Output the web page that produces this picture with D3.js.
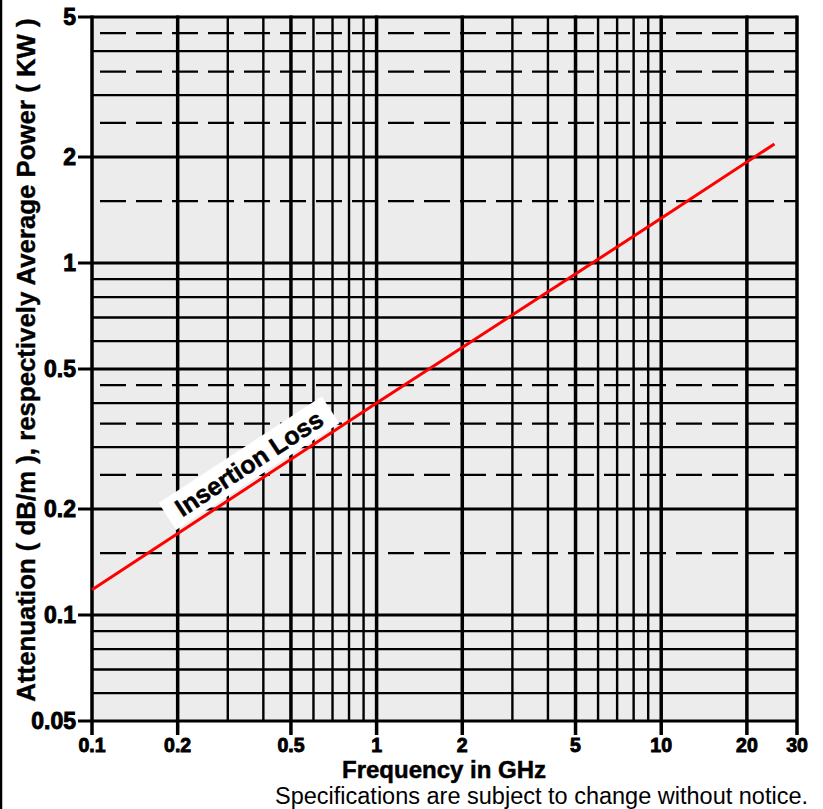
<!DOCTYPE html>
<html>
<head>
<meta charset="utf-8">
<script src="https://cdn.jsdelivr.net/npm/d3@7"></script>
<style>
  body { margin: 0; background: #fff; }
  svg { display: block; }
  text { font-family: 'Liberation Sans', Arial, sans-serif; }
</style>
</head>
<body>
<div id="chart"></div>
<script>
// grid values
var xMajor = [0.1, 0.2, 0.5, 1, 2, 5, 10, 20, 30];
var xMinor = [0.3, 0.4, 0.6, 0.7, 0.8, 0.9, 3, 4, 6, 7, 8, 9];
var yMajor = [0.05, 0.1, 0.2, 0.5, 1, 2, 5];
var yMinor = [0.06, 0.07, 0.08, 0.09, 0.3, 0.4, 0.6, 0.7, 0.8, 0.9, 3, 4];
var yDashed = [0.15, 0.25, 0.35, 0.45, 1.5, 2.5, 3.5, 4.5];

var xTickLabels = ["0.1", "0.2", "0.5", "1", "2", "5", "10", "20", "30"];
var yTickLabels = ["0.05", "0.1", "0.2", "0.5", "1", "2", "5"];

// insertion loss curve
var freq = [0.1, 1, 10, 25];
var loss = [0.118, 0.40, 1.34, 2.18];

var labelFreq = 0.356,
    labelValue = 0.27;

var width = 823,
    height = 809

var margin = { left: 92, right: 26, top: 17, bottom: 88 }

var svg = d3.select("#chart").append("svg")
    .attr("width", width)
    .attr("height", height)

var x = d3.scaleLog().domain([0.1, 30]).range([margin.left, width - margin.right])
var y = d3.scaleLog().domain([0.05, 5]).range([height - margin.bottom, margin.top])

// cropped edge of neighbouring chart
svg.append("line")
    .attr("x1", 1).attr("x2", 1)
    .attr("y1", 0).attr("y2", height)
    .attr("stroke", "#000")
    .attr("stroke-width", 2.5)

svg.append("rect")
    .attr("x", x(0.1))
    .attr("y", y(5))
    .attr("width", x(30) - x(0.1))
    .attr("height", y(0.05) - y(5))
    .attr("fill", "#ebeceb")

var grid = svg.append("g")

grid.selectAll(".ydash").data(yDashed).enter().append("line")
    .attr("x1", x(0.1)).attr("x2", x(30))
    .attr("y1", d => y(d)).attr("y2", d => y(d))
    .attr("stroke", "#000")
    .attr("stroke-width", 2.2)
    .attr("stroke-dasharray", "26,10")
    .attr("stroke-dashoffset", 28)

grid.selectAll(".yminor").data(yMinor).enter().append("line")
    .attr("x1", x(0.1)).attr("x2", x(30))
    .attr("y1", d => y(d)).attr("y2", d => y(d))
    .attr("stroke", "#000")
    .attr("stroke-width", 2.4)

grid.selectAll(".ymajor").data(yMajor).enter().append("line")
    .attr("x1", x(0.1) - 14).attr("x2", x(30))
    .attr("y1", d => y(d)).attr("y2", d => y(d))
    .attr("stroke", "#000")
    .attr("stroke-width", 3)

grid.selectAll(".xminor").data(xMinor).enter().append("line")
    .attr("x1", d => x(d)).attr("x2", d => x(d))
    .attr("y1", y(5)).attr("y2", y(0.05))
    .attr("stroke", "#000")
    .attr("stroke-width", 2.4)

grid.selectAll(".xmajor").data(xMajor).enter().append("line")
    .attr("x1", d => x(d)).attr("x2", d => x(d))
    .attr("y1", y(5) - 1.5).attr("y2", y(0.05) + 14)
    .attr("stroke", "#000")
    .attr("stroke-width", 3.5)

// tick labels
svg.append("g").selectAll("text").data(xMajor).enter().append("text")
    .attr("x", d => x(d))
    .attr("y", 751.5)
    .attr("text-anchor", "middle")
    .attr("stroke", "#000").attr("stroke-width", 0.9)
    .style("font-weight", "bold").style("font-size", "19.5px")
    .text((d, i) => xTickLabels[i])

svg.append("g").selectAll("text").data(yMajor).enter().append("text")
    .attr("x", x(0.1) - 16)
    .attr("y", d => y(d))
    .attr("dy", "0.36em")
    .attr("text-anchor", "end")
    .attr("stroke", "#000").attr("stroke-width", 0.9)
    .style("font-weight", "bold").style("font-size", "23px")
    .text((d, i) => yTickLabels[i])

// insertion loss line
var pts = freq.map((f, i) => [f, loss[i]])

svg.append("path")
    .datum(pts)
    .attr("fill", "none")
    .attr("stroke", "#ff0000")
    .attr("stroke-width", 3)
    .attr("d", d3.line().x(d => x(d[0])).y(d => y(d[1])))

// rotated label on the curve
var a = pts[0], b = pts[pts.length - 1]
var angle = Math.atan2(y(b[1]) - y(a[1]), x(b[0]) - x(a[0])) * 180 / Math.PI

var lab = svg.append("g")
    .attr("transform", "translate(" + x(labelFreq) + "," + y(labelValue) + ") rotate(" + angle + ")")

var box = lab.append("rect").attr("fill", "#fff")
var txt = lab.append("text")
    .attr("text-anchor", "middle")
    .attr("dy", "0.36em")
    .attr("stroke", "#000").attr("stroke-width", 0.5)
    .style("font-weight", "bold").style("font-size", "25px")
    .text("Insertion Loss")

var tw = txt.node().getComputedTextLength()
box.attr("x", -tw / 2 - 12).attr("y", -16)
    .attr("width", tw + 24).attr("height", 32)

// axis titles
svg.append("text")
    .attr("transform", "translate(35,360) rotate(-90)")
    .attr("text-anchor", "middle")
    .attr("stroke", "#000").attr("stroke-width", 0.4)
    .style("font-weight", "bold").style("font-size", "25.8px")
    .text("Attenuation  ( dB/m ), respectively Average Power ( KW )")

svg.append("text")
    .attr("x", 444)
    .attr("y", 777.5)
    .attr("text-anchor", "middle")
    .attr("stroke", "#000").attr("stroke-width", 0.5)
    .style("font-weight", "bold").style("font-size", "24px")
    .text("Frequency in GHz")

svg.append("text")
    .attr("x", 808)
    .attr("y", 804)
    .attr("text-anchor", "end")
    .style("font-size", "23.5px")
    .text("Specifications are subject to change without notice.")
</script>
</body>
</html>
